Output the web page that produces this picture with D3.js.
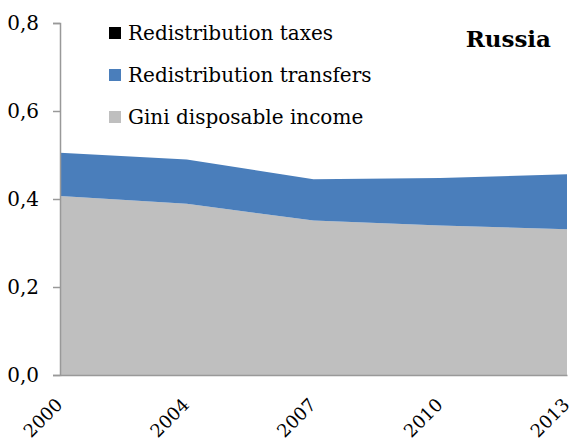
<!DOCTYPE html>
<html>
<head>
<meta charset="utf-8">
<script src="https://cdn.jsdelivr.net/npm/d3@7"></script>
<style>
  body { margin: 0; background: #fff; }
  text { font-family: "DejaVu Serif", "Liberation Serif", serif; }
</style>
</head>
<body>
<div id="chart"></div>
<script>
var years = ["2000", "2004", "2007", "2010", "2013"];
var giniDisposable = [0.407, 0.389, 0.351, 0.340, 0.331];
var redistTransfers = [0.098, 0.101, 0.094, 0.108, 0.125];
var redistTaxes = [0, 0, 0, 0, 0];
var yTicks = [0, 0.2, 0.4, 0.6, 0.8];
var seriesNames = ["Gini disposable income", "Redistribution transfers", "Redistribution taxes"];
var colors = ["#bfbfbf", "#4a7ebb", "#000000"];

var width = 572, height = 444;
var margin = {left: 60, right: 5, top: 23, bottom: 69};

var svg = d3.select("#chart").append("svg")
    .attr("width", width)
    .attr("height", height);

var x = d3.scalePoint()
    .domain(years)
    .range([margin.left, width - margin.right]);

var y = d3.scaleLinear()
    .domain([0, 0.8])
    .range([height - margin.bottom, margin.top]);

var rows = years.map(function (yr, i) {
  return {year: yr, gini: giniDisposable[i], transfers: redistTransfers[i], taxes: redistTaxes[i]};
});

var stack = d3.stack().keys(["gini", "transfers", "taxes"]);
var layers = stack(rows);

var area = d3.area()
    .x(function (d) { return x(d.data.year); })
    .y0(function (d) { return y(d[0]); })
    .y1(function (d) { return y(d[1]); });

svg.append("g").selectAll("path")
  .data(layers)
  .enter()
  .append("path")
  .attr("d", area)
  .attr("fill", function (d, i) { return colors[i]; });

// y axis
var yAxis = svg.append("g")
    .attr("transform", "translate(" + margin.left + ",0)")
    .call(d3.axisLeft(y).tickValues(yTicks).tickSize(7).tickPadding(14)
      .tickFormat(function (d) { return d3.format(".1f")(d).replace(".", ","); }));
yAxis.select(".domain").attr("stroke", "#999").attr("stroke-width", 1.5);
yAxis.selectAll(".tick line").attr("stroke", "#999").attr("stroke-width", 1.5);
yAxis.selectAll("text").attr("font-size", 20).attr("fill", "#000");

// x axis
var xAxis = svg.append("g")
    .attr("transform", "translate(0," + y(0) + ")")
    .call(d3.axisBottom(x).tickSize(0).tickPadding(0));
xAxis.select(".domain").attr("stroke", "#999").attr("stroke-width", 1.5);
xAxis.selectAll("text")
    .attr("font-size", 18)
    .attr("fill", "#000")
    .attr("text-anchor", "end")
    .attr("dy", "0")
    .attr("transform", "translate(3,31) rotate(-45)");

// legend
var legendItems = [
  {name: seriesNames[2], color: colors[2]},
  {name: seriesNames[1], color: colors[1]},
  {name: seriesNames[0], color: colors[0]}
];
var legend = svg.append("g");
legendItems.forEach(function (item, i) {
  var cy = 33 + i * 42;
  legend.append("rect")
    .attr("x", 109).attr("y", cy - 6)
    .attr("width", 12).attr("height", 12)
    .attr("fill", item.color);
  legend.append("text")
    .attr("x", 128).attr("y", cy + 7)
    .attr("font-size", 20)
    .text(item.name);
});

svg.append("text")
  .attr("x", 551).attr("y", 47)
  .attr("text-anchor", "end")
  .attr("font-size", 23)
  .attr("font-weight", "bold")
  .text("Russia");
</script>
</body>
</html>
